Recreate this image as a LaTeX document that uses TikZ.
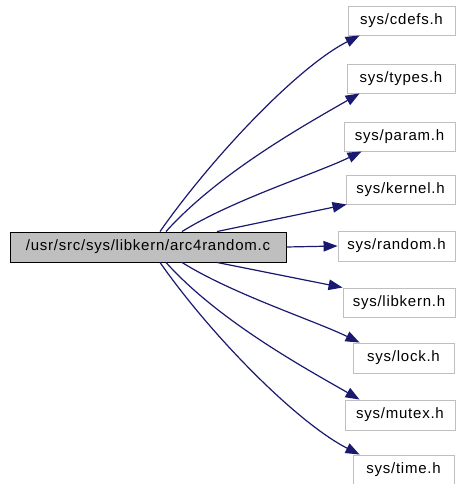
\documentclass[tikz,border=0pt]{standalone}
\usepackage{fontspec}
\setmainfont{Liberation Sans}[LetterSpace=5]
\usetikzlibrary{arrows.meta}
\definecolor{edgeblue}{HTML}{191970}
\definecolor{boxgray}{HTML}{BFBFBF}
\definecolor{mainfill}{HTML}{BFBFBF}
\begin{document}
\begin{tikzpicture}[x=1pt,y=1pt,
  every node/.style={font=\fontsize{15}{17}\selectfont, inner sep=0pt, anchor=center},
  filebox/.style={draw=boxgray, fill=white, line width=0.9pt},
  mainbox/.style={draw=black, fill=mainfill, line width=0.9pt},
  dep/.style={draw=edgeblue, line width=1.2pt, -{Triangle[length=14pt,width=10.5pt]}}]
\useasboundingbox (0,0) rectangle (456,484);
\node[mainbox, minimum width=276pt, minimum height=30pt] (main) at (148,237) {/usr/src/sys/libkern/arc4random.c};
\node[filebox, minimum width=107pt, minimum height=29pt] (cdefs) at (401.5,463.5) {sys/cdefs.h};
\node[filebox, minimum width=108pt, minimum height=29pt] (types) at (401,405.5) {sys/types.h};
\node[filebox, minimum width=111pt, minimum height=29pt] (param) at (399.5,347.5) {sys/param.h};
\node[filebox, minimum width=109pt, minimum height=29pt] (kernel) at (400.5,294.5) {sys/kernel.h};
\node[filebox, minimum width=117pt, minimum height=30pt] (random) at (396.5,238) {sys/random.h};
\node[filebox, minimum width=112pt, minimum height=29pt] (libkern) at (399,181.5) {sys/libkern.h};
\node[filebox, minimum width=101pt, minimum height=30pt] (lock) at (403.5,126) {sys/lock.h};
\node[filebox, minimum width=110pt, minimum height=30pt] (mutex) at (400,69) {sys/mutex.h};
\node[filebox, minimum width=101pt, minimum height=30pt] (time) at (403.5,14) {sys/time.h};

\draw[dep] ([xshift=12pt]main.north) .. controls +(55:90) and +(207:70) .. ([xshift=12pt]cdefs.south west);
\draw[dep] ([xshift=18pt]main.north) .. controls +(48:80) and +(210:60) .. ([xshift=13pt]types.south west);
\draw[dep] ([xshift=34pt]main.north) .. controls +(32:60) and +(206:50) .. ([xshift=18pt]param.south west);
\draw[dep] ([xshift=69pt]main.north) -- ([xshift=1pt]kernel.south west);
\draw[dep] (main.east) -- (random.west);
\draw[dep] ([xshift=69pt]main.south) -- (libkern.north west);
\draw[dep] ([xshift=34pt]main.south) .. controls +(-32:60) and +(154:50) .. ([xshift=7pt]lock.north west);
\draw[dep] ([xshift=18pt]main.south) .. controls +(-48:80) and +(150:60) .. ([xshift=15pt]mutex.north west);
\draw[dep] ([xshift=12pt]main.south) .. controls +(-55:90) and +(153:70) .. ([xshift=7pt]time.north west);
\end{tikzpicture}
\end{document}
